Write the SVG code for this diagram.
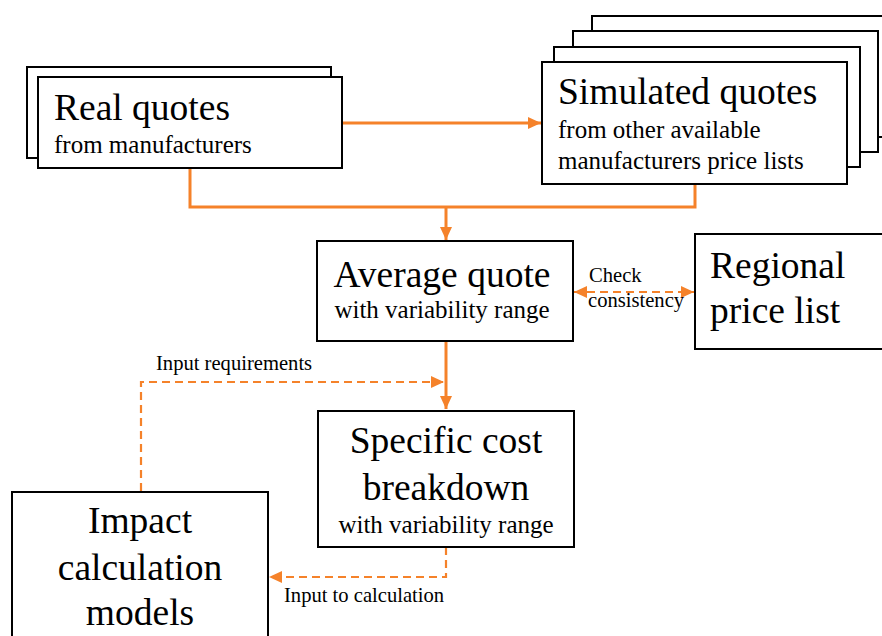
<svg xmlns="http://www.w3.org/2000/svg" width="882" height="636" viewBox="0 0 882 636">
<style>
.box{fill:#fff;stroke:#000;stroke-width:2}
.t{font-family:"Liberation Serif","Times New Roman",serif;fill:#000}
.ti{font-size:37.5px}
.sub{font-size:25px}
.lb{font-size:20.6px}
.c{stroke:#F5822A;stroke-width:3;fill:none}
.d{stroke-dasharray:8,5;stroke-width:2.2}
</style>
<defs>
<marker id="ah" markerUnits="userSpaceOnUse" markerWidth="14" markerHeight="14" viewBox="0 0 14 14" refX="13" refY="7" orient="auto-start-reverse">
<path d="M0,1 L13,7 L0,13 Z" fill="#F5822A"/>
</marker>
</defs>
<rect width="882" height="636" fill="#fff"/>
<g id="connectors">
<path class="c" d="M342,123 H541" marker-end="url(#ah)"/>
<path class="c" d="M190,168 V207 H695 V184"/>
<path class="c" d="M446,207 V240" marker-end="url(#ah)"/>
<path class="c d" d="M574,292 H694" marker-start="url(#ah)" marker-end="url(#ah)"/>
<path class="c" d="M446,341 V409" marker-end="url(#ah)"/>
<path class="c d" d="M141,491 V382 H444" marker-end="url(#ah)"/>
<path class="c d" d="M446,547 V577 H269" marker-end="url(#ah)"/>
<text class="t lb" x="589" y="282">Check</text>
<text class="t lb" x="588" y="307">consistency</text>
<text class="t lb" x="156" y="370">Input requirements</text>
<text class="t lb" x="284" y="602">Input to calculation</text>
</g>
<g id="real-quotes">
<rect class="box" x="27" y="67" width="304" height="91"/>
<rect class="box" x="38" y="77" width="304" height="91"/>
<text class="t ti" x="54" y="120">Real quotes</text>
<text class="t sub" x="54" y="153">from manufacturers</text>
</g>
<g id="simulated-quotes">
<rect class="box" x="592" y="16" width="310" height="121"/>
<rect class="box" x="573" y="31" width="305" height="121"/>
<rect class="box" x="554" y="47" width="306" height="120"/>
<rect class="box" x="542" y="62" width="305" height="122"/>
<text class="t ti" x="558" y="104">Simulated quotes</text>
<text class="t sub" x="558" y="138">from other available</text>
<text class="t sub" x="558" y="169">manufacturers price lists</text>
</g>
<g id="average-quote">
<rect class="box" x="317" y="241" width="256" height="100"/>
<text class="t ti" x="442" y="287" text-anchor="middle">Average quote</text>
<text class="t sub" x="442" y="318" text-anchor="middle">with variability range</text>
</g>
<g id="regional-price-list">
<rect class="box" x="695" y="234" width="200" height="115"/>
<text class="t ti" x="710" y="278">Regional</text>
<text class="t ti" x="710" y="323">price list</text>
</g>
<g id="specific-cost">
<rect class="box" x="318" y="411" width="256" height="136"/>
<text class="t ti" x="446" y="453" text-anchor="middle">Specific cost</text>
<text class="t ti" x="446" y="500" text-anchor="middle">breakdown</text>
<text class="t sub" x="446" y="533" text-anchor="middle">with variability range</text>
</g>
<g id="impact-models">
<rect class="box" x="12" y="492" width="256" height="160"/>
<text class="t ti" x="140" y="533" text-anchor="middle">Impact</text>
<text class="t ti" x="140" y="580" text-anchor="middle">calculation</text>
<text class="t ti" x="140" y="625" text-anchor="middle">models</text>
</g>
</svg>
